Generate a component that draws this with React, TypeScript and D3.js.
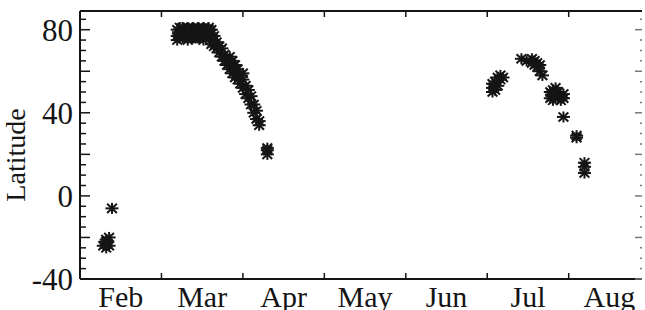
import React from "react";
import * as d3 from "d3";

// month labels, one per month starting at Feb
const monthLabels = ["Feb", "Mar", "Apr", "May", "Jun", "Jul", "Aug"];
const monthDays = [28, 31, 30, 31, 30, 31, 31];
const yTickLabels = [-40, 0, 40, 80];

// observations: date ("Mon D") and latitude
const obsDates = [
  "Feb 9", "Feb 10", "Feb 10", "Feb 10", "Feb 11", "Feb 11", "Feb 10", "Feb 12",
  "Mar 7", "Mar 7", "Mar 7", "Mar 8", "Mar 8", "Mar 9", "Mar 9", "Mar 9",
  "Mar 10", "Mar 10", "Mar 11", "Mar 11", "Mar 11", "Mar 12", "Mar 12",
  "Mar 13", "Mar 13", "Mar 13", "Mar 14", "Mar 14", "Mar 15", "Mar 15", "Mar 15",
  "Mar 16", "Mar 16", "Mar 17", "Mar 17", "Mar 17", "Mar 18", "Mar 18",
  "Mar 19", "Mar 19", "Mar 20", "Mar 20", "Mar 20", "Mar 21", "Mar 21",
  "Mar 8", "Mar 10", "Mar 12", "Mar 14", "Mar 16", "Mar 18", "Mar 19", "Mar 21",
  "Mar 22", "Mar 22", "Mar 23", "Mar 23", "Mar 24", "Mar 24", "Mar 25", "Mar 25",
  "Mar 26", "Mar 26", "Mar 27", "Mar 27", "Mar 27", "Mar 28", "Mar 28", "Mar 28",
  "Mar 29", "Mar 29", "Mar 29", "Mar 30", "Mar 30", "Mar 31", "Mar 31",
  "Apr 1", "Apr 1", "Apr 1", "Apr 2", "Apr 2", "Apr 3", "Apr 3", "Apr 4", "Apr 4",
  "Apr 5", "Apr 5", "Apr 6", "Apr 6", "Apr 7", "Apr 7", "Apr 10", "Apr 10", "Apr 10",
  "Jul 3", "Jul 3", "Jul 3", "Jul 4", "Jul 4", "Jul 5", "Jul 5", "Jul 6", "Jul 6", "Jul 7",
  "Jul 14", "Jul 16", "Jul 18", "Jul 18", "Jul 19", "Jul 19", "Jul 20", "Jul 20",
  "Jul 21", "Jul 21", "Jul 22",
  "Jul 25", "Jul 25", "Jul 26", "Jul 26", "Jul 26", "Jul 27", "Jul 27", "Jul 28", "Jul 28",
  "Jul 29", "Jul 29", "Jul 30", "Jul 30", "Jul 30",
  "Aug 4", "Aug 4", "Aug 7", "Aug 7", "Aug 7",
];
const obsLatitudes = [
  -24, -21, -23, -25, -24, -20, -22, -6,
  80, 77, 75, 81, 78, 79, 76, 81,
  80, 77, 81, 78, 75, 79, 80,
  81, 77, 76, 80, 78, 81, 79, 76,
  80, 77, 81, 78, 75, 80, 79,
  81, 77, 80, 78, 73, 75, 72,
  76, 79, 77, 76, 79, 76, 80, 77,
  74, 71, 72, 69, 71, 67, 68, 65,
  66, 63, 64, 67, 61, 62, 59, 65,
  60, 63, 57, 61, 56, 58, 54,
  56, 52, 59, 53, 49, 51, 47, 48, 44,
  44, 40, 41, 37, 36, 34, 22, 20, 23,
  52, 50, 54, 55, 51, 57, 53, 58, 56, 57,
  66, 65, 64, 66, 63, 65, 62, 64,
  60, 63, 58,
  50, 47, 51, 48, 46, 49, 52, 47, 50,
  48, 46, 47, 49, 38,
  28, 29, 16, 14, 11,
];

const W = 645;
const H = 310;
const left = 80;
const right = 642;
const top = 11;
const bottom = 279;

function dateToMonth(s: string): number {
  const [mon, day] = s.split(" ");
  const i = monthLabels.indexOf(mon);
  return i + (Number(day) - 1) / monthDays[i];
}

export default function App() {
  const x = d3.scaleLinear().domain([0, 6.9]).range([left, right]);
  const y = d3.scaleLinear().domain([-40, 89]).range([bottom, top]);

  const minorY = d3.range(-40, 90, 5);
  const monthTicks = d3.range(1, 7);
  const font = "Liberation Serif, Times New Roman, Times, serif";
  const ink = "#151515";
  const r = 6.5;

  const points = obsDates.map((d, i) => ({ mx: dateToMonth(d), lat: obsLatitudes[i] }));

  return (
    <svg
      width={W}
      height={H}
      style={{ position: "absolute", left: 0, top: 0, background: "#fff", fontFamily: font }}
    >
      {/* points */}
      <g stroke={ink} strokeWidth={2}>
        {points.map((p, i) => {
          const cx = x(p.mx);
          const cy = y(p.lat);
          return (
            <g key={i} transform={`translate(${cx},${cy})`}>
              <line x1={-r} x2={r} y1={0} y2={0} />
              <line x1={0} x2={0} y1={-r * 0.85} y2={r * 0.85} />
              <line x1={-r * 0.75} x2={r * 0.75} y1={-r * 0.7} y2={r * 0.7} />
              <line x1={-r * 0.75} x2={r * 0.75} y1={r * 0.7} y2={-r * 0.7} />
            </g>
          );
        })}
      </g>

      {/* frame */}
      <line x1={left} x2={left} y1={top} y2={bottom} stroke={ink} strokeWidth={2} />
      <line x1={left} x2={right} y1={bottom} y2={bottom} stroke={ink} strokeWidth={2} />
      <line x1={left} x2={right} y1={top} y2={top} stroke={ink} strokeWidth={2} />

      {/* y ticks */}
      {minorY.map((v) => {
        const major = v % 20 === 0;
        return (
          <g key={v}>
            <line
              x1={left}
              x2={left + (major ? 10 : 6)}
              y1={y(v)}
              y2={y(v)}
              stroke={ink}
              strokeWidth={1.5}
            />
            <line
              x1={right}
              x2={right - (major ? 7 : 2)}
              y1={y(v)}
              y2={y(v)}
              stroke="#777"
              strokeWidth={1.5}
            />
          </g>
        );
      })}

      {/* x ticks */}
      {monthTicks.map((m) => (
        <g key={m} stroke={ink} strokeWidth={1.5}>
          <line x1={x(m)} x2={x(m)} y1={bottom} y2={bottom - 6} />
          <line x1={x(m)} x2={x(m)} y1={top} y2={top + 6} />
        </g>
      ))}

      {/* y tick labels */}
      {yTickLabels.map((v) => (
        <text
          key={v}
          x={left - 7}
          y={y(v)}
          dy="0.35em"
          textAnchor="end"
          fontSize={31}
          fill={ink}
        >
          {v}
        </text>
      ))}

      {/* month labels */}
      {monthLabels.map((m, i) => (
        <text key={m} x={x(i + 0.5)} y={307} textAnchor="middle" fontSize={30} fill={ink}>
          {m}
        </text>
      ))}

      <text
        transform={`translate(25,155) rotate(-90)`}
        textAnchor="middle"
        fontSize={28}
        fill={ink}
      >
        Latitude
      </text>
    </svg>
  );
}
